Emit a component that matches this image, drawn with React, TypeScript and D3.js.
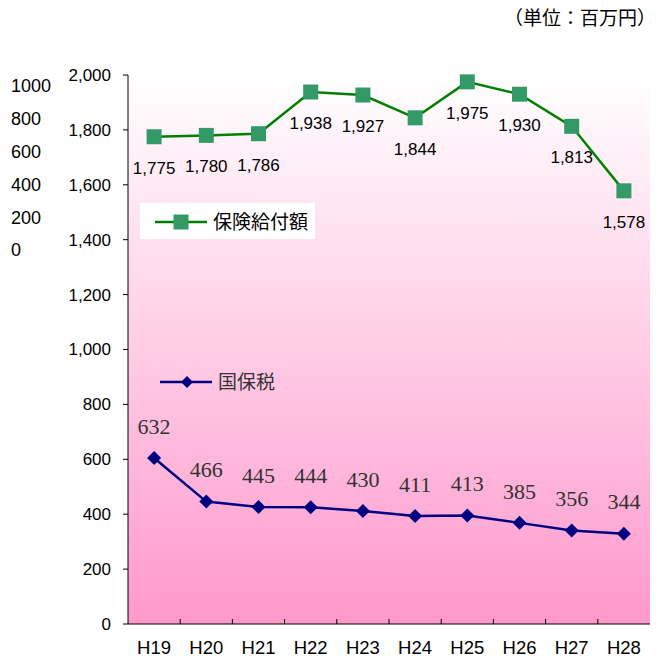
import React from "react";
import * as d3 from "d3";

const categories = ["H19", "H20", "H21", "H22", "H23", "H24", "H25", "H26", "H27", "H28"];
const benefitValues = [1775, 1780, 1786, 1938, 1927, 1844, 1975, 1930, 1813, 1578];
const taxValues = [632, 466, 445, 444, 430, 411, 413, 385, 356, 344];
const leftTicks = [0, 200, 400, 600, 800, 1000, 1200, 1400, 1600, 1800, 2000];
const secondaryTicks = [0, 200, 400, 600, 800, 1000];
const benefitName = "保険給付額";
const taxName = "国保税";
const unitLabel = "（単位：百万円）";

const W = 659, H = 662;
const plot = { left: 128, right: 650, top: 75, bottom: 624 };
const sans = "'Liberation Sans', Arial, sans-serif";
const jp = "'Noto Sans CJK JP', sans-serif";
const serif = "'Liberation Serif', 'DejaVu Serif', serif";

export default function App() {
  const x = d3.scaleBand<string>().domain(categories).range([plot.left, plot.right]);
  const y = d3.scaleLinear().domain([0, 2000]).range([plot.bottom, plot.top]);
  const y2 = d3.scaleLinear().domain([0, 2090]).range([plot.bottom, plot.top]);
  const ySec = d3.scaleLinear().domain([0, 1000]).range([250, 86]);
  const cx = (c: string) => (x(c) as number) + x.bandwidth() / 2;

  const greenLine = d3.line<number>().x((_, i) => cx(categories[i])).y((d) => y(d));
  const blueLine = d3.line<number>().x((_, i) => cx(categories[i])).y((d) => y2(d));
  const fmt = d3.format(",");

  return (
    <svg width={W} height={H} style={{ position: "absolute", left: 0, top: 0 }}>
      <defs>
        <linearGradient id="bg" x1="0" y1="0" x2="0" y2="1">
          <stop offset="0%" stopColor="#ffffff" />
          <stop offset="100%" stopColor="#ff99cc" />
        </linearGradient>
      </defs>
      <rect x={0} y={0} width={W} height={H} fill="#ffffff" />
      <rect x={plot.left} y={plot.top} width={plot.right - plot.left} height={plot.bottom - plot.top} fill="url(#bg)" />

      <text x={656} y={25} textAnchor="end" fontFamily={jp} fontSize={19} fill="#000">{unitLabel}</text>

      {/* secondary axis labels */}
      {secondaryTicks.map((t) => (
        <text key={"s" + t} x={11} y={ySec(t)} dy="0.35em" fontFamily={sans} fontSize={18} fill="#000">{t}</text>
      ))}

      {/* left axis */}
      <line x1={plot.left} x2={plot.left} y1={plot.top} y2={plot.bottom} stroke="#000" strokeWidth={1} />
      {leftTicks.map((t) => (
        <g key={"t" + t}>
          <line x1={plot.left - 5} x2={plot.left} y1={y(t)} y2={y(t)} stroke="#000" />
          <text x={plot.left - 17} y={y(t)} dy="0.35em" textAnchor="end" fontFamily={sans} fontSize={17} fill="#000">{fmt(t)}</text>
        </g>
      ))}

      {/* bottom axis */}
      <line x1={plot.left} x2={plot.right} y1={plot.bottom} y2={plot.bottom} stroke="#000" strokeWidth={1} />
      {categories.map((c, i) => (
        <g key={c}>
          {i > 0 && <line x1={x(c)} x2={x(c)} y1={plot.bottom - 5} y2={plot.bottom} stroke="#000" />}
          <text x={cx(c)} y={648} dy="0.35em" textAnchor="middle" fontFamily={sans} fontSize={18.5} fill="#000">{c}</text>
        </g>
      ))}

      {/* green series */}
      <path d={greenLine(benefitValues) || ""} fill="none" stroke="#008000" strokeWidth={2.5} />
      {benefitValues.map((v, i) => (
        <g key={"g" + i}>
          <rect x={cx(categories[i]) - 7.5} y={y(v) - 7.5} width={15} height={15} fill="#339966" />
          <text x={cx(categories[i])} y={y(v) + 31} dy="0.35em" textAnchor="middle" fontFamily={sans} fontSize={17} fill="#000">{fmt(v)}</text>
        </g>
      ))}

      {/* blue series */}
      <path d={blueLine(taxValues) || ""} fill="none" stroke="#000080" strokeWidth={2.5} />
      {taxValues.map((v, i) => (
        <g key={"b" + i}>
          <path d="M0,-7L7,0L0,7L-7,0Z" transform={`translate(${cx(categories[i])},${y2(v)})`} fill="#000080" />
          <text x={cx(categories[i])} y={y2(v) - 32} dy="0.35em" textAnchor="middle" fontFamily={serif} fontSize={22} fill="#333">{v}</text>
        </g>
      ))}

      {/* legend: benefit */}
      <rect x={140} y={203} width={175} height={36} fill="#ffffff" />
      <line x1={155} x2={207} y1={222} y2={222} stroke="#008000" strokeWidth={2.5} />
      <rect x={173.5} y={214.5} width={15} height={15} fill="#339966" />
      <text x={213} y={222} dy="0.35em" fontFamily={jp} fontSize={19} fill="#000">{benefitName}</text>

      {/* legend: tax */}
      <line x1={160} x2={212} y1={382} y2={382} stroke="#000080" strokeWidth={2.5} />
      <path d="M0,-6L6,0L0,6L-6,0Z" transform="translate(187,382)" fill="#000080" />
      <text x={218} y={382} dy="0.35em" fontFamily={jp} fontSize={19} fill="#333">{taxName}</text>
    </svg>
  );
}
